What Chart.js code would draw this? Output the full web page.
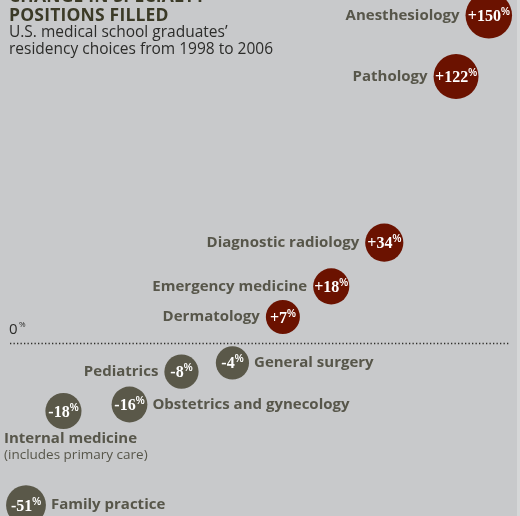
<!DOCTYPE html>
<html>
<head>
<meta charset="utf-8">
<script src="https://cdn.jsdelivr.net/npm/chart.js@4.4.1/dist/chart.umd.min.js"></script>
<style>
  body { margin: 0; background: #c8c9cb; }
  #wrap { position: relative; width: 520px; height: 516px; overflow: hidden; background: #c8c9cb; }
  canvas { position: absolute; left: 0; top: 0; }
  .title { position: absolute; left: 9px; font-family: 'Open Sans', sans-serif; font-weight: 700;
    font-size: 17.5px; color: #3b3a27; letter-spacing: 0.2px; line-height: 22px; white-space: nowrap; }
  .sub { position: absolute; left: 9px; top: 23px; font-family: 'Open Sans', sans-serif;
    font-size: 15.5px; line-height: 17px; color: #2c2c2a; }
  .edge { position: absolute; right: 0; top: 0; width: 3px; height: 516px; background: #d6d7d8; }
</style>
</head>
<body>
<div id="wrap">
  <canvas id="chart" width="520" height="516"></canvas>
  <div class="title" style="top:-16px">CHANGE IN SPECIALTY</div>
  <div class="title" style="top:2.5px">POSITIONS FILLED</div>
  <div class="sub">U.S. medical school graduates’<br>residency choices from 1998 to 2006</div>
  <div class="edge"></div>
</div>
<script>
// change in positions filled, 1998-2006 (%)
const specialties = ['Anesthesiology', 'Pathology', 'Diagnostic radiology', 'Emergency medicine',
  'Dermatology', 'General surgery', 'Pediatrics', 'Obstetrics and gynecology',
  'Internal medicine', 'Family practice'];
const change = [150, 122, 34, 18, 7, -4, -8, -16, -18, -51];
const notes = ['', '', '', '', '', '', '', '', '(includes primary care)', ''];

// where the graphic puts each bubble (small changes are spread out for legibility)
const xPlacement = [9.4, 8.77, 7.39, 6.37, 5.44, 4.47, 3.49, 2.49, 1.22, 0.5];
const yPlacement = [150, 122, 46, 26, 12, -9, -13, -28, -31, -74];

// which side of the bubble the name sits on
const labelSide = ['left', 'left', 'left', 'left', 'left', 'right', 'left', 'right', 'below', 'right'];

const RED = '#6b1200';
const GREY = '#5a5849';
const W = 520, H = 516;

function bubbleRadius(v) {
  return 15.3 + 0.65 * Math.sqrt(Math.abs(v));
}

// chart.js pads the plot area by the biggest bubble, so widen the axes to cancel it
const pad = Math.max(...change.map(bubbleRadius));
const xMin = 0, xMax = 10, yMin = -79, yMax = 157;
const xUnit = (xMax - xMin) / W, yUnit = (yMax - yMin) / H;

const labels = {
  id: 'labels',
  beforeDatasetsDraw(chart) {
    const { ctx } = chart;
    const y0 = Math.round(chart.scales.y.getPixelForValue(0)) + 0.5;
    ctx.save();
    ctx.strokeStyle = '#2e2e2a';
    ctx.lineWidth = 1.3;
    ctx.setLineDash([1.3, 2.2]);
    ctx.beginPath();
    ctx.moveTo(10, y0);
    ctx.lineTo(509, y0);
    ctx.stroke();
    ctx.setLineDash([]);
    ctx.fillStyle = '#2c2c2a';
    ctx.font = '15px "Open Sans", sans-serif';
    ctx.textBaseline = 'alphabetic';
    ctx.fillText('0', 9, y0 - 10);
    ctx.font = '8px "Open Sans", sans-serif';
    ctx.fillText('%', 19, y0 - 17);
    ctx.restore();
  },
  afterDatasetsDraw(chart) {
    const { ctx } = chart;
    const meta = chart.getDatasetMeta(0);
    ctx.save();
    meta.data.forEach((el, i) => {
      const r = bubbleRadius(change[i]);
      const v = change[i];
      // value inside the bubble
      const num = (v > 0 ? '+' : '-') + Math.abs(v);
      ctx.fillStyle = '#ffffff';
      ctx.font = 'bold 16px "Liberation Serif", serif';
      const w1 = ctx.measureText(num).width;
      ctx.font = 'bold 10px "Liberation Sans", sans-serif';
      const w2 = ctx.measureText('%').width;
      let sx = el.x - (w1 + w2) / 2;
      ctx.textBaseline = 'alphabetic';
      ctx.textAlign = 'left';
      ctx.font = 'bold 16px "Liberation Serif", serif';
      ctx.fillText(num, sx, el.y + 5.5);
      ctx.font = 'bold 10px "Liberation Sans", sans-serif';
      ctx.fillText('%', sx + w1, el.y - 0.5);

      // specialty name
      ctx.fillStyle = '#57564a';
      ctx.font = 'bold 15px "Open Sans", sans-serif';
      ctx.textBaseline = 'middle';
      const side = labelSide[i];
      if (side === 'left') {
        ctx.textAlign = 'right';
        ctx.fillText(specialties[i], el.x - r - 6, el.y);
      } else if (side === 'right') {
        ctx.textAlign = 'left';
        ctx.fillText(specialties[i], el.x + r + 5, el.y);
      } else {
        ctx.textAlign = 'left';
        ctx.fillText(specialties[i], 4, el.y + r + 10);
        if (notes[i]) {
          ctx.font = '13.5px "Open Sans", sans-serif';
          ctx.fillText(notes[i], 4, el.y + r + 26);
        }
      }
    });
    ctx.restore();
  }
};

new Chart(document.getElementById('chart'), {
  type: 'bubble',
  data: {
    datasets: [{
      data: specialties.map((s, i) => ({ x: xPlacement[i], y: yPlacement[i], r: bubbleRadius(change[i]) })),
      backgroundColor: change.map(v => v > 0 ? RED : GREY),
      borderWidth: 0,
      clip: false
    }]
  },
  options: {
    responsive: false,
    animation: false,
    layout: { padding: 0 },
    plugins: { legend: { display: false }, tooltip: { enabled: false } },
    scales: {
      x: { display: false, min: xMin + pad * xUnit, max: xMax - pad * xUnit },
      y: { display: false, min: yMin + pad * yUnit, max: yMax - pad * yUnit }
    }
  },
  plugins: [labels]
});
</script>
</body>
</html>
